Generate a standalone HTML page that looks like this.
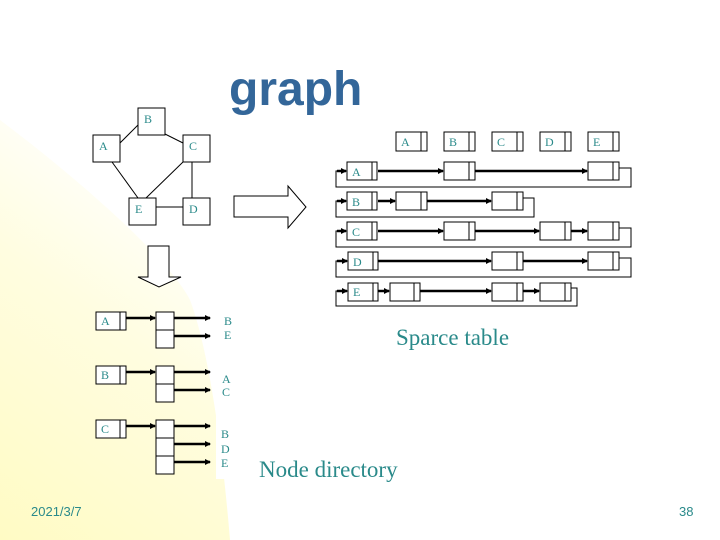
<!DOCTYPE html>
<html><head><meta charset="utf-8"><style>
html,body{margin:0;padding:0;background:#fff}
svg{display:block}
.t{font-family:"Liberation Serif",serif;fill:#2a8a8a}
</style></head><body>
<svg width="720" height="540" viewBox="0 0 720 540" xmlns="http://www.w3.org/2000/svg">
<defs>
<linearGradient id="yg" x1="0" y1="1" x2="0.4" y2="0">
<stop offset="0" stop-color="#fffbc4"/><stop offset="0.6" stop-color="#fffde0"/><stop offset="1" stop-color="#ffffff"/>
</linearGradient>
<marker id="ah" markerWidth="6" markerHeight="6" refX="5" refY="3" orient="auto" markerUnits="userSpaceOnUse">
<path d="M0,0 L6,3 L0,6 z" fill="#000"/></marker>
</defs>
<path d="M0,120 C80,180 170,260 190,300 C205,340 220,420 230,540 L0,540 Z" fill="url(#yg)"/>
<rect x="216" y="305" width="26" height="174" fill="#fff"/>
<text x="229" y="105" font-family="Liberation Sans,sans-serif" font-weight="bold" font-size="48" fill="#336699">graph</text>

<!-- graph -->
<g stroke="#000" stroke-width="1" fill="none">
<line x1="120" y1="143" x2="138" y2="125"/><line x1="165" y1="134" x2="183" y2="143"/>
<line x1="112" y1="162" x2="138" y2="198"/><line x1="183" y1="162" x2="146" y2="198"/>
<line x1="192" y1="162" x2="192" y2="198"/><line x1="156" y1="207" x2="183" y2="207"/>
<rect x="138" y="108" width="27" height="27" fill="#fff"/>
<rect x="93" y="135" width="27" height="27" fill="#fff"/>
<rect x="183" y="135" width="27" height="27" fill="#fff"/>
<rect x="129" y="198" width="27" height="27" fill="#fff"/>
<rect x="183" y="198" width="27" height="27" fill="#fff"/>
<path d="M234,196 H288 V186 L306,207 L288,228 V217 H234 Z" fill="#fff"/>
<path d="M148,246 H169 V277 H181 L159,287 L138,277 H148 Z" fill="#fff"/>
</g>
<g class="t" font-size="12">
<text x="144" y="123">B</text><text x="99" y="150">A</text><text x="189" y="150">C</text>
<text x="135" y="213">E</text><text x="189" y="213">D</text>
</g>

<!-- sparse table -->
<g stroke="#000" stroke-width="1" fill="#fff">
<rect x="396" y="132" width="31" height="19"/><line x1="421" y1="132" x2="421" y2="151"/>
<rect x="444" y="132" width="31" height="19"/><line x1="469" y1="132" x2="469" y2="151"/>
<rect x="492" y="132" width="31" height="19"/><line x1="517" y1="132" x2="517" y2="151"/>
<rect x="540" y="132" width="31" height="19"/><line x1="565" y1="132" x2="565" y2="151"/>
<rect x="588" y="132" width="31" height="19"/><line x1="613" y1="132" x2="613" y2="151"/>
</g>
<g class="t" font-size="12">
<text x="401" y="146">A</text><text x="449" y="146">B</text><text x="497" y="146">C</text><text x="545" y="146">D</text><text x="593" y="146">E</text>
</g>

<g fill="none" stroke="#000" stroke-width="1">
<!-- loops -->
<path d="M347,171 H336 V187 H631 V168 H619"/>
<path d="M347,201 H336 V217 H534 V198 H523"/>
<path d="M347,231 H336 V247 H631 V228 H619"/>
<path d="M348,261 H336 V277 H631 V258 H619"/>
<path d="M348,291 H336 V306 H577 V288 H571"/>
</g>
<g stroke="#000" stroke-width="2.5" marker-end="url(#ah)">
<line x1="378" y1="171" x2="443" y2="171"/><line x1="475" y1="171" x2="587" y2="171"/>
<line x1="378" y1="201" x2="395" y2="201"/><line x1="427" y1="201" x2="491" y2="201"/>
<line x1="378" y1="231" x2="443" y2="231"/><line x1="475" y1="231" x2="539" y2="231"/><line x1="571" y1="231" x2="587" y2="231"/>
<line x1="378" y1="261" x2="491" y2="261"/><line x1="523" y1="261" x2="587" y2="261"/>
<line x1="378" y1="291" x2="389" y2="291"/><line x1="420" y1="291" x2="491" y2="291"/><line x1="523" y1="291" x2="539" y2="291"/>
<line x1="337" y1="171" x2="346" y2="171"/><line x1="337" y1="201" x2="346" y2="201"/><line x1="337" y1="231" x2="346" y2="231"/><line x1="337" y1="261" x2="347" y2="261"/><line x1="337" y1="291" x2="347" y2="291"/>
</g>
<g stroke="#000" stroke-width="1" fill="#fff">
<rect x="347" y="162" width="30" height="18"/><line x1="372" y1="162" x2="372" y2="180"/>
<rect x="444" y="162" width="31" height="18"/><line x1="469" y1="162" x2="469" y2="180"/>
<rect x="588" y="162" width="31" height="18"/><line x1="613" y1="162" x2="613" y2="180"/>
<rect x="347" y="192" width="30" height="18"/><line x1="372" y1="192" x2="372" y2="210"/>
<rect x="396" y="192" width="31" height="18"/><line x1="421" y1="192" x2="421" y2="210"/>
<rect x="492" y="192" width="31" height="18"/><line x1="517" y1="192" x2="517" y2="210"/>
<rect x="347" y="222" width="30" height="18"/><line x1="372" y1="222" x2="372" y2="240"/>
<rect x="444" y="222" width="31" height="18"/><line x1="469" y1="222" x2="469" y2="240"/>
<rect x="540" y="222" width="31" height="18"/><line x1="565" y1="222" x2="565" y2="240"/>
<rect x="588" y="222" width="31" height="18"/><line x1="613" y1="222" x2="613" y2="240"/>
<rect x="348" y="252" width="30" height="18"/><line x1="373" y1="252" x2="373" y2="270"/>
<rect x="492" y="252" width="31" height="18"/><line x1="517" y1="252" x2="517" y2="270"/>
<rect x="588" y="252" width="31" height="18"/><line x1="613" y1="252" x2="613" y2="270"/>
<rect x="348" y="283" width="30" height="18"/><line x1="373" y1="283" x2="373" y2="301"/>
<rect x="390" y="283" width="30" height="18"/><line x1="414" y1="283" x2="414" y2="301"/>
<rect x="492" y="283" width="31" height="18"/><line x1="517" y1="283" x2="517" y2="301"/>
<rect x="540" y="283" width="31" height="18"/><line x1="565" y1="283" x2="565" y2="301"/>
</g>
<g class="t" font-size="12">
<text x="352" y="176">A</text><text x="352" y="206">B</text><text x="352" y="236">C</text><text x="353" y="266">D</text><text x="353" y="296">E</text>
</g>
<text class="t" x="396" y="345" font-size="23">Sparce table</text>

<!-- node directory -->
<g stroke="#000" stroke-width="2.5" marker-end="url(#ah)">
<line x1="126" y1="318" x2="155" y2="318"/><line x1="174" y1="318" x2="210" y2="318"/><line x1="174" y1="336" x2="210" y2="336"/>
<line x1="126" y1="372" x2="155" y2="372"/><line x1="174" y1="372" x2="210" y2="372"/><line x1="174" y1="390" x2="210" y2="390"/>
<line x1="126" y1="426" x2="155" y2="426"/><line x1="174" y1="426" x2="210" y2="426"/><line x1="174" y1="444" x2="210" y2="444"/><line x1="174" y1="462" x2="210" y2="462"/>
</g>
<g stroke="#000" stroke-width="1" fill="#fff">
<rect x="96" y="312" width="30" height="18"/><line x1="120" y1="312" x2="120" y2="330"/>
<rect x="96" y="366" width="30" height="18"/><line x1="120" y1="366" x2="120" y2="384"/>
<rect x="96" y="420" width="30" height="18"/><line x1="120" y1="420" x2="120" y2="438"/>
<rect x="156" y="312" width="18" height="18"/><rect x="156" y="330" width="18" height="18"/>
<rect x="156" y="366" width="18" height="18"/><rect x="156" y="384" width="18" height="18"/>
<rect x="156" y="420" width="18" height="18"/><rect x="156" y="438" width="18" height="18"/><rect x="156" y="456" width="18" height="18"/>
</g>
<g class="t" font-size="12">
<text x="101" y="325">A</text><text x="101" y="379">B</text><text x="101" y="433">C</text>
<text x="224" y="325">B</text><text x="224" y="339">E</text>
<text x="222" y="383">A</text><text x="222" y="396">C</text>
<text x="221" y="438">B</text><text x="221" y="453">D</text><text x="221" y="467">E</text>
</g>
<text class="t" x="259" y="477" font-size="23">Node directory</text>
<text x="31" y="516" font-family="Liberation Sans,sans-serif" font-size="13" fill="#2a8a8a">2021/3/7</text>
<text x="679" y="516" font-family="Liberation Sans,sans-serif" font-size="13" fill="#2a8a8a">38</text>
</svg>
</body></html>
